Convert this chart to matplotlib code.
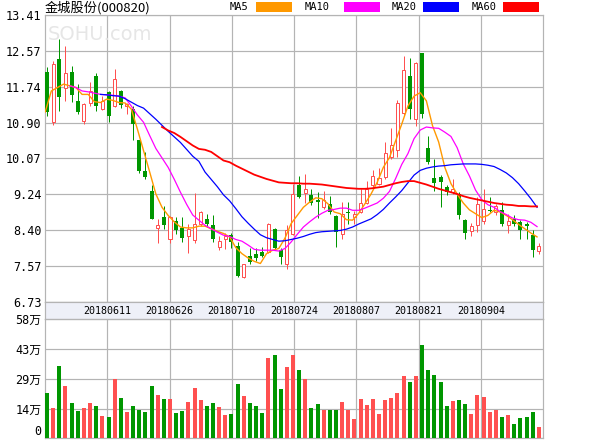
import matplotlib
matplotlib.use("Agg")
import matplotlib.pyplot as plt
from matplotlib.patches import Rectangle
import numpy as np

# ---- data (daily K line, 81 sessions) ----
title = "金城股份(000820)"
date_labels = ["20180611", "20180626", "20180710", "20180724",
               "20180807", "20180821", "20180904"]
price_labels = ["6.73", "7.57", "8.40", "9.24", "10.07", "10.90", "11.74", "12.57", "13.41"]
vol_labels = ["0", "14万", "29万", "43万", "58万"]

opens = [12.08, 10.92, 12.39, 11.72, 12.08, 11.41, 10.94, 11.36, 12.00, 11.23,
         11.62, 11.28, 11.64, 11.28, 11.22, 10.50, 9.78, 9.30, 8.45, 8.70,
         8.20, 8.60, 8.45, 8.25, 8.16, 8.55, 8.65, 8.51, 8.01, 8.18,
         8.28, 8.02, 7.30, 7.79, 7.85, 7.89, 7.89, 8.43, 7.93, 7.62,
         8.30, 9.44, 9.27, 9.21, 9.10, 8.93, 9.01, 8.72, 8.30, 8.80,
         8.70, 8.83, 9.04, 9.45, 9.48, 9.63, 10.11, 10.27, 11.12, 11.99,
         10.98, 12.53, 10.30, 9.61, 9.63, 9.41, 9.28, 9.24, 8.64, 8.38,
         8.51, 8.60, 8.85, 8.82, 8.86, 8.51, 8.66, 8.59, 8.55, 8.29,
         7.91]
highs = [12.20, 12.33, 12.85, 12.68, 12.22, 11.80, 11.35, 11.85, 12.06, 11.52,
         11.65, 12.16, 11.66, 11.36, 11.28, 10.50, 10.21, 9.46, 8.66, 8.96,
         8.72, 8.70, 8.70, 8.55, 9.27, 8.85, 8.78, 8.74, 8.26, 8.33,
         8.33, 8.12, 7.62, 7.97, 7.98, 8.00, 8.56, 8.45, 7.97, 8.51,
         9.48, 9.67, 9.71, 9.36, 9.28, 9.32, 9.20, 8.74, 9.05, 9.05,
         8.85, 9.36, 9.54, 9.80, 9.85, 10.44, 10.78, 11.43, 12.45, 12.40,
         12.32, 12.53, 10.60, 10.06, 9.69, 9.46, 9.58, 9.28, 8.66, 8.57,
         9.17, 9.36, 9.17, 9.00, 9.05, 8.78, 8.75, 8.63, 8.58, 8.39,
         8.10]
lows = [11.05, 10.84, 11.18, 11.41, 11.39, 11.10, 10.87, 11.30, 11.18, 11.20,
        10.92, 11.26, 11.25, 11.10, 10.50, 9.74, 9.58, 8.65, 8.10, 8.43,
        8.09, 8.30, 8.12, 7.87, 8.10, 8.50, 8.50, 8.12, 7.93, 7.95,
        7.98, 7.30, 7.28, 7.60, 7.68, 7.78, 7.86, 7.95, 7.62, 7.50,
        8.28, 9.15, 9.03, 8.98, 8.69, 8.90, 8.78, 8.01, 8.18, 8.55,
        8.55, 8.80, 9.00, 9.40, 9.45, 9.60, 10.05, 10.10, 11.05, 10.98,
        10.83, 11.00, 9.95, 9.30, 8.93, 9.22, 9.24, 8.66, 8.18, 8.25,
        8.36, 8.55, 8.82, 8.75, 8.50, 8.33, 8.50, 8.18, 8.20, 7.77,
        7.83]
closes = [11.15, 12.26, 11.49, 12.05, 11.54, 11.14, 11.33, 11.64, 11.28, 11.41,
          11.06, 11.91, 11.32, 11.33, 10.87, 9.78, 9.63, 8.65, 8.51, 8.51,
          8.70, 8.41, 8.22, 8.43, 8.53, 8.82, 8.53, 8.18, 8.14, 8.26,
          8.12, 7.33, 7.60, 7.66, 7.75, 7.80, 8.55, 7.97, 7.77, 8.39,
          9.24, 9.18, 9.36, 9.03, 9.05, 9.09, 8.82, 8.35, 8.78, 8.80,
          8.78, 9.04, 9.36, 9.67, 9.62, 10.19, 10.38, 11.36, 12.14, 11.22,
          12.30, 11.10, 9.98, 9.49, 9.53, 9.28, 9.36, 8.76, 8.34, 8.49,
          9.01, 8.90, 8.85, 8.97, 8.55, 8.62, 8.53, 8.41, 8.50, 7.93,
          8.03]
# volume in units of 万 (10k shares)
volumes = [22.07, 14.82, 35.12, 25.46, 17.24, 13.37, 14.82, 17.24, 15.79, 10.96,
           10.47, 28.84, 19.66, 12.89, 15.79, 13.86, 12.89, 25.46, 21.11, 19.17,
           19.17, 12.41, 13.37, 17.72, 24.49, 18.69, 15.79, 17.24, 15.31, 11.44,
           11.92, 26.42, 20.62, 17.24, 15.79, 12.41, 38.99, 40.44, 24.00, 34.64,
           40.44, 33.19, 28.84, 14.82, 16.76, 13.86, 13.86, 13.86, 17.72, 13.86,
           9.51, 19.17, 16.27, 19.17, 11.92, 18.69, 19.66, 22.07, 30.29, 27.39,
           30.29, 45.27, 33.19, 30.77, 27.39, 15.79, 18.21, 18.69, 16.76, 11.92,
           21.11, 20.14, 12.89, 13.86, 10.47, 11.44, 7.09, 9.99, 10.47, 12.89,
           5.64]

nan = float("nan")
ma5 = [11.15, 11.64, 11.72, 11.80, 11.76, 11.72, 11.56, 11.56, 11.39, 11.37,
       11.45, 11.42, 11.37, 11.36, 11.22, 10.75, 10.25, 9.75, 9.24, 8.93,
       8.74, 8.59, 8.47, 8.45, 8.45, 8.49, 8.49, 8.43, 8.37, 8.32,
       8.24, 7.99, 7.85, 7.75, 7.67, 7.62, 7.85, 7.93, 7.97, 8.21,
       8.55, 8.74, 8.93, 9.05, 9.15, 9.13, 9.01, 8.82, 8.78, 8.64,
       8.63, 8.79, 9.01, 9.24, 9.51, 9.86, 10.09, 10.48, 10.87, 11.29,
       11.52, 11.60, 11.41, 10.83, 10.45, 9.86, 9.48, 9.24, 9.03, 8.87,
       8.78, 8.69, 8.74, 8.86, 8.82, 8.74, 8.64, 8.53, 8.43, 8.33,
       8.24]
ma10 = [nan, nan, nan, nan, 11.76, 11.72, 11.64, 11.62, 11.59, 11.56,
        11.55, 11.54, 11.52, 11.48, 11.29, 11.08, 10.91, 10.60, 10.30, 10.08,
        9.86, 9.58, 9.28, 9.00, 8.75, 8.63, 8.51, 8.43, 8.35, 8.28,
        8.25, 8.18, 8.14, 8.05, 7.95, 7.93, 7.93, 7.93, 7.91, 7.97,
        8.12, 8.30, 8.47, 8.59, 8.70, 8.79, 8.86, 8.88, 8.91, 8.91,
        8.86, 8.86, 8.91, 8.97, 9.03, 9.14, 9.30, 9.60, 9.93, 10.18,
        10.53, 10.73, 10.80, 10.78, 10.77, 10.68, 10.58, 10.32, 9.94, 9.66,
        9.33, 9.11, 8.99, 8.93, 8.83, 8.76, 8.68, 8.64, 8.63, 8.58,
        8.48]
ma20 = [nan, nan, nan, nan, nan, nan, nan, nan, nan, 11.56,
        11.55, 11.53, 11.52, 11.46, 11.38, 11.30, 11.24, 11.11, 10.98, 10.84,
        10.70, 10.57, 10.44, 10.28, 10.12, 10.00, 9.75, 9.58, 9.41, 9.22,
        9.08, 8.90, 8.71, 8.56, 8.42, 8.29, 8.22, 8.18, 8.14, 8.15,
        8.18, 8.21, 8.25, 8.30, 8.34, 8.36, 8.37, 8.38, 8.39, 8.42,
        8.47, 8.54, 8.60, 8.66, 8.76, 8.88, 9.03, 9.17, 9.32, 9.50,
        9.68, 9.79, 9.84, 9.87, 9.89, 9.90, 9.92, 9.93, 9.94, 9.94,
        9.94, 9.93, 9.91, 9.88, 9.81, 9.73, 9.62, 9.48, 9.31, 9.13,
        8.93]
ma60 = [nan] * 19 + [
        10.80, 10.72, 10.66, 10.57, 10.47, 10.37, 10.29, 10.27, 10.22, 10.12,
        10.02, 9.98, 9.90, 9.83, 9.76, 9.69, 9.64, 9.59, 9.55, 9.51,
        9.50, 9.49, 9.49, 9.48, 9.48, 9.47, 9.46, 9.44, 9.42, 9.40,
        9.38, 9.37, 9.36, 9.36, 9.37, 9.39, 9.41, 9.45, 9.49, 9.52,
        9.54, 9.54, 9.50, 9.46, 9.41, 9.36, 9.32, 9.28, 9.24, 9.19,
        9.15, 9.12, 9.09, 9.06, 9.03, 9.01, 8.99, 8.98, 8.96, 8.96,
        8.95, 8.95]

# ---- styling ----
W, H = 600, 440
UP = "#ff5050"
DOWN = "#009600"
GRID = "#b4b4b4"
px = 72 / 100  # one pixel in points

plt.rcParams["font.family"] = ["DejaVu Sans Mono", "Noto Sans CJK SC"]

fig = plt.figure(figsize=(W / 100, H / 100), dpi=100)
fig.patch.set_facecolor("white")


def box(left, top, right, bottom):
    return [left / W, 1 - bottom / H, (right - left) / W, (bottom - top) / H]


ax = fig.add_axes(box(45, 15, 543, 301.7))
ax_d = fig.add_axes(box(45, 301.7, 543, 319.3))
ax_v = fig.add_axes(box(45, 319.3, 543, 438.3))

n = len(closes)
x = np.arange(n)
xlim = (-0.33, n - 0.33)
grid_x = [xlim[0] + k * (xlim[1] - xlim[0]) / 8 for k in range(1, 8)]

o = np.array(opens)
c = np.array(closes)
hi = np.array(highs)
lo = np.array(lows)
up = c > o

# candles
for i in range(n):
    top, bot = max(o[i], c[i]), min(o[i], c[i])
    if up[i]:
        ax.vlines(x[i], top, hi[i], color=UP, lw=px, zorder=3)
        ax.vlines(x[i], lo[i], bot, color=UP, lw=px, zorder=3)
        ax.bar(x[i], top - bot, bottom=bot, width=0.5, facecolor="white",
               edgecolor=UP, lw=px, zorder=3)
    else:
        ax.vlines(x[i], lo[i], hi[i], color=DOWN, lw=px, zorder=3)
        ax.bar(x[i], max(top - bot, 0.025), bottom=bot, width=0.65,
               color=DOWN, lw=0, zorder=3)

# moving averages
mx = x - 0.3
ax.plot(mx, ma5, color="#ff9900", lw=1.0, zorder=4)
ax.plot(mx, ma10, color="#ff00ff", lw=0.9, zorder=4)
ax.plot(mx, ma20, color="#0000ff", lw=0.9, zorder=4)
ax.plot(mx, ma60, color="#ff0000", lw=1.3, zorder=4)

pt = np.linspace(6.73, 13.41, len(price_labels))
ax.set_ylim(pt[0], pt[-1])
ax.set_yticks(pt)
ax.set_yticklabels(price_labels)

# volume
vcol = [UP if c[i] >= o[i] else DOWN for i in range(n)]
ax_v.bar(x, volumes, width=0.65, color=vcol, lw=0, zorder=3)
vt = np.linspace(0, 58, len(vol_labels))
ax_v.set_ylim(0, 58)
ax_v.set_yticks(vt)
ax_v.set_yticklabels(vol_labels)
ax_v.get_yticklabels()[0].set_va("bottom")

# date strip
ax_d.set_facecolor("#eef0f8")
ax_d.set_xlim(xlim)
ax_d.set_ylim(0, 1)
ax_d.set_xticks([])
ax_d.set_yticks([])
for gx, lab in zip(grid_x, date_labels):
    ax_d.text(gx, 0.45, lab, ha="center", va="center", fontsize=7.2)

for a in (ax, ax_v):
    a.set_xlim(xlim)
    a.set_xticks(grid_x)
    a.set_xticklabels([])
    a.grid(True, color=GRID, lw=px * 1.2, zorder=0)
    a.set_axisbelow(True)
    a.tick_params(length=0, pad=2.5, labelsize=8.5)
for a in (ax, ax_d, ax_v):
    for s in a.spines.values():
        s.set_color(GRID)
        s.set_linewidth(px * 1.2)

# header: title, watermark, legend
fig.text(45 / W, 1 - 8 / H, title, fontsize=9.5, va="center", ha="left",
         family=["Noto Sans CJK SC", "DejaVu Sans"])
fig.text(48 / W, 1 - 34 / H, "SOHU.com", fontsize=14, color="#e6e6e6",
         va="center", ha="left", family="DejaVu Sans", zorder=0)

legend = [("MA5", "#ff9900", 230, 256), ("MA10", "#ff00ff", 305, 344),
          ("MA20", "#0000ff", 392, 423), ("MA60", "#ff0000", 472, 503)]
for name, col, tx, sx in legend:
    fig.text(tx / W, 1 - 7.5 / H, name, fontsize=7.5, va="center", ha="left")
    fig.add_artist(Rectangle((sx / W, 1 - 12 / H), 36 / W, 9.5 / H,
                             transform=fig.transFigure, color=col, lw=0))

fig.savefig("out.png", dpi=100)
